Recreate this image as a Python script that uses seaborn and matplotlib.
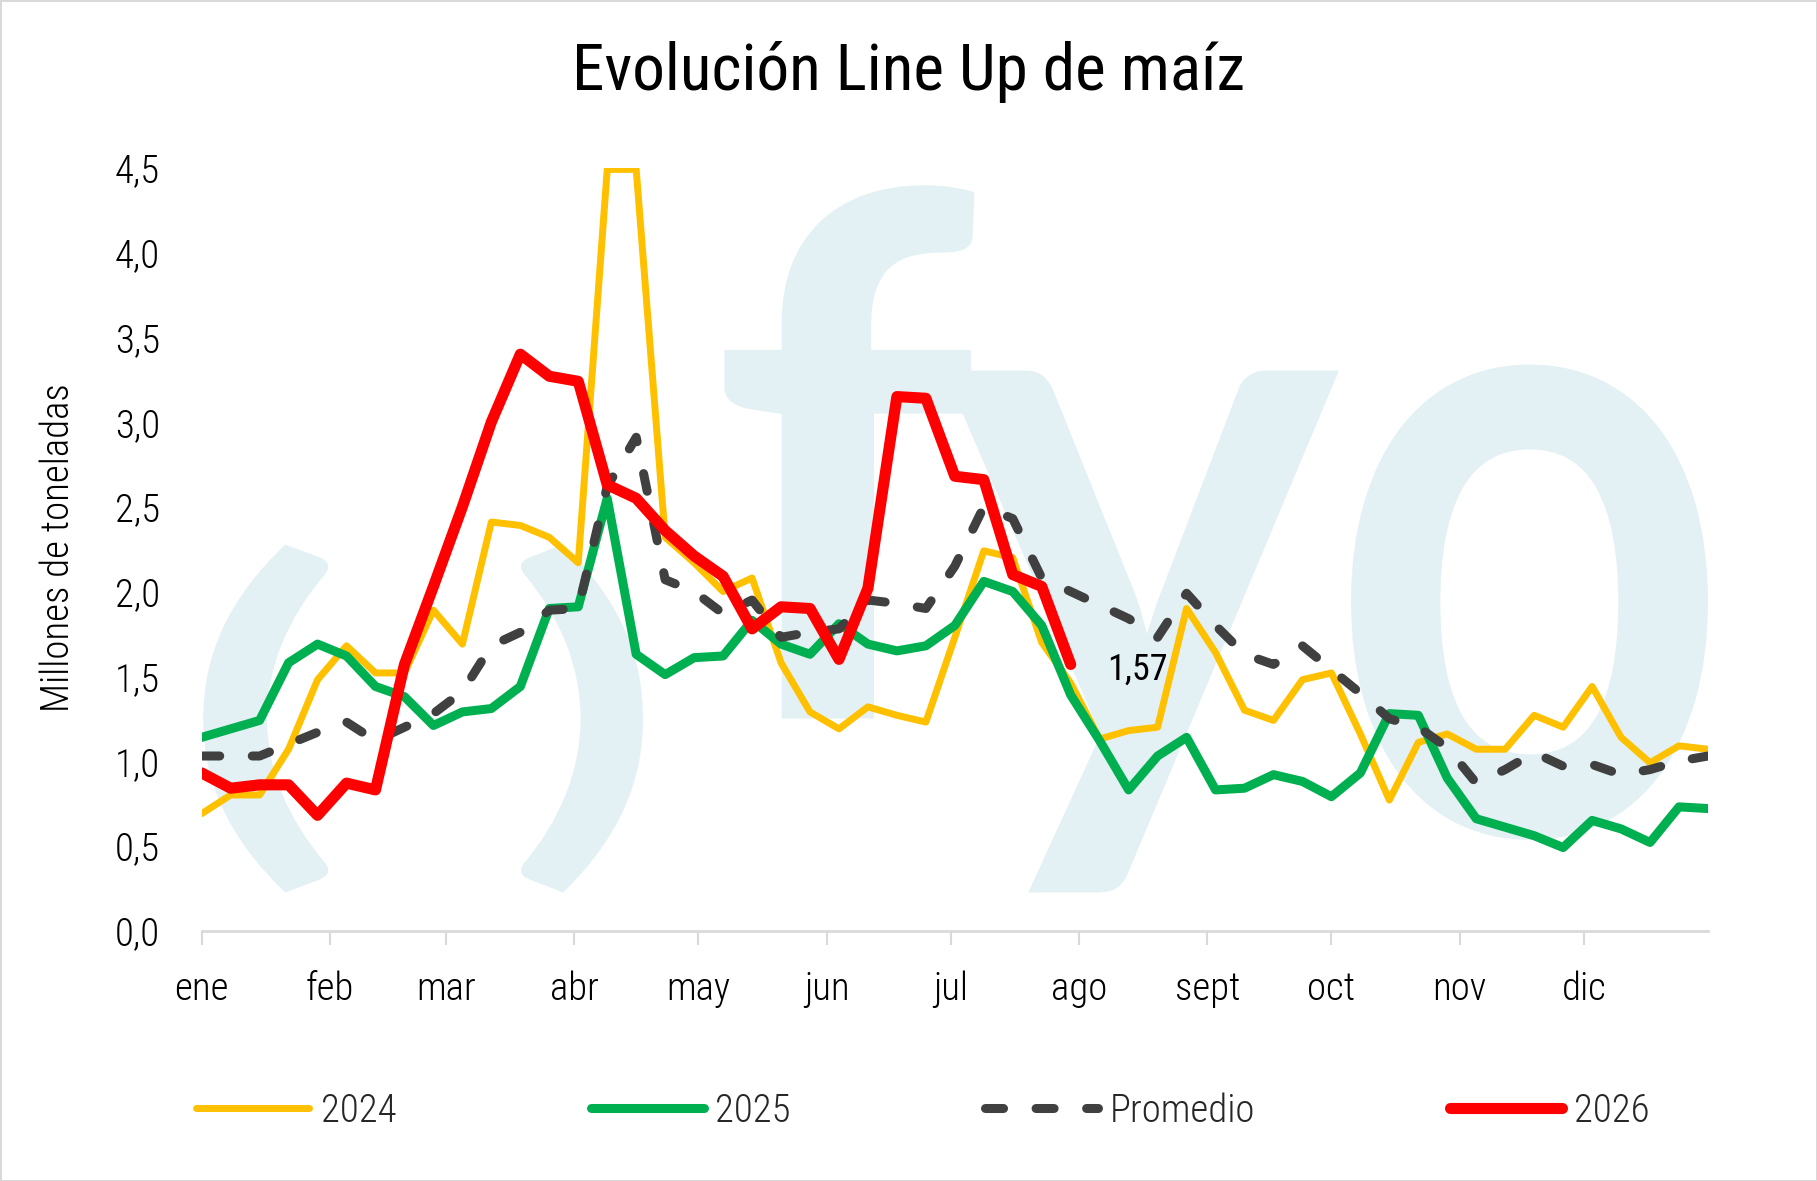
import numpy as np
import pandas as pd
import seaborn as sns
import matplotlib
matplotlib.use("Agg")
import matplotlib.pyplot as plt
from matplotlib import font_manager
from matplotlib.textpath import TextPath
from matplotlib.patches import PathPatch
from matplotlib.transforms import Affine2D

# weekly line up, millones de toneladas (week 0 = 1 ene)
y2024 = [0.69, 0.80, 0.80, 1.07, 1.48, 1.68, 1.52, 1.52, 1.89, 1.69,
         2.41, 2.39, 2.32, 2.17, 4.49, 4.49, 2.32, 2.17, 2.00, 2.08,
         1.58, 1.29, 1.19, 1.32, 1.27, 1.23, 1.73, 2.24, 2.20, 1.70,
         1.46, 1.13, 1.18, 1.20, 1.90, 1.64, 1.30, 1.24, 1.48, 1.52,
         1.16, 0.77, 1.11, 1.16, 1.07, 1.07, 1.27, 1.20, 1.44, 1.14,
         0.99, 1.09, 1.07]
y2025 = [1.14, 1.19, 1.24, 1.58, 1.69, 1.62, 1.44, 1.38, 1.21, 1.29,
         1.31, 1.44, 1.90, 1.91, 2.55, 1.63, 1.51, 1.61, 1.62, 1.83,
         1.69, 1.63, 1.81, 1.69, 1.65, 1.68, 1.80, 2.06, 2.00, 1.80,
         1.39, 1.12, 0.83, 1.03, 1.14, 0.83, 0.84, 0.92, 0.88, 0.79,
         0.93, 1.28, 1.27, 0.90, 0.66, 0.61, 0.56, 0.49, 0.65, 0.60,
         0.52, 0.73, 0.72]
promedio = [1.03, 1.03, 1.03, 1.10, 1.17, 1.23, 1.12, 1.20, 1.28, 1.41,
            1.68, 1.76, 1.89, 1.90, 2.62, 2.91, 2.07, 2.00, 1.87, 1.95,
            1.73, 1.76, 1.78, 1.95, 1.93, 1.90, 2.15, 2.50, 2.43, 2.08,
            2.00, 1.92, 1.84, 1.73, 1.99, 1.80, 1.63, 1.57, 1.68, 1.54,
            1.40, 1.25, 1.20, 1.08, 0.87, 0.95, 1.05, 0.97, 0.98, 0.92,
            0.95, 1.00, 1.03]
y2026 = [0.93, 0.84, 0.86, 0.86, 0.68, 0.87, 0.83, 1.57, 2.03, 2.50,
         3.00, 3.40, 3.27, 3.24, 2.63, 2.55, 2.36, 2.21, 2.09, 1.78,
         1.91, 1.90, 1.60, 2.02, 3.15, 3.14, 2.68, 2.66, 2.10, 2.03,
         1.57]

meses = ["ene", "feb", "mar", "abr", "may", "jun", "jul", "ago",
         "sept", "oct", "nov", "dic"]
dia_mes = [0, 31, 59, 90, 120, 151, 181, 212, 243, 273, 304, 334]

semanas = np.arange(len(y2024))

# pick a narrow font if there is one
names = {f.name for f in font_manager.fontManager.ttflist}
font = "Roboto"
for cand in ["Liberation Sans Narrow", "Roboto Condensed", "Open Sans Condensed",
             "Roboto"]:
    if cand in names:
        font = cand
        break

sns.set_theme(style="white")
plt.rcParams["font.family"] = [font, "DejaVu Sans"]
plt.rcParams["font.weight"] = "light"

fig = plt.figure(figsize=(18.17, 11.81), dpi=100)
fig.patch.set_edgecolor("#D9D9D9")
fig.patch.set_linewidth(2)
ax = fig.add_axes([0.111, 0.212, 0.829, 0.646])

# watermark logo (fyo) in light blue behind the data
logo = "#E3F1F5"
glyphs = [("(", (0.001, 0.050, 0.084, 0.506)),
          (")", (0.212, 0.050, 0.293, 0.506)),
          ("f", (0.347, 0.278, 0.513, 0.977)),
          ("y", (0.493, 0.050, 0.755, 0.734)),
          ("o", (0.763, 0.119, 1.000, 0.742))]
fp = font_manager.FontProperties(family="Lato", weight="bold")
for ch, (x0, y0, x1, y1) in glyphs:
    tp = TextPath((0, 0), ch, size=1, prop=fp)
    ext = tp.get_extents()
    tr = (Affine2D().translate(-ext.x0, -ext.y0)
          .scale((x1 - x0) / ext.width, (y1 - y0) / ext.height)
          .translate(x0, y0))
    patch = PathPatch(tr.transform_path(tp), facecolor=logo, edgecolor="none",
                      transform=ax.transAxes, zorder=0, clip_on=False)
    ax.add_patch(patch)

df24 = pd.DataFrame({"semana": semanas, "valor": y2024})
df25 = pd.DataFrame({"semana": semanas, "valor": y2025})
dfp = pd.DataFrame({"semana": semanas, "valor": promedio})
df26 = pd.DataFrame({"semana": semanas[:len(y2026)], "valor": y2026})

kw = dict(solid_capstyle="round", solid_joinstyle="round")
sns.lineplot(data=df24, x="semana", y="valor", color="#FFC000", linewidth=5,
             label="2024", ax=ax, zorder=3, **kw)
sns.lineplot(data=df25, x="semana", y="valor", color="#00B050", linewidth=6.5,
             label="2025", ax=ax, zorder=4, **kw)
sns.lineplot(data=dfp, x="semana", y="valor", color="#404040", linewidth=6.5,
             label="Promedio", ax=ax, zorder=5, linestyle=(0, (2.0, 3.6)),
             dash_capstyle="round", dash_joinstyle="round")
sns.lineplot(data=df26, x="semana", y="valor", color="#FF0000", linewidth=8,
             label="2026", ax=ax, zorder=6, **kw)

# label on the last 2026 value
ax.annotate(f"{y2026[-1]:.2f}".replace(".", ","),
            xy=(len(y2026) - 1, y2026[-1]), xytext=(48, -4),
            textcoords="offset points", ha="center", va="center",
            fontsize=26, color="black", fontweight="normal", zorder=7)

ax.set_xlim(0, len(y2024) - 1)
ax.set_ylim(0, 4.5)
ax.set_yticks(np.arange(0, 4.51, 0.5))
ax.set_yticklabels([f"{v:.1f}".replace(".", ",") for v in np.arange(0, 4.51, 0.5)])
ax.set_xticks([d / 7 for d in dia_mes])
ax.set_xticklabels(meses)
ax.tick_params(axis="x", direction="out", length=10, width=1.5, colors="#D9D9D9",
               labelcolor="black", labelsize=28, pad=19, bottom=True)
ax.tick_params(axis="y", length=0, labelsize=28, pad=30, labelcolor="black")
ax.set_xlabel("")
ax.set_ylabel("")
for s in ["top", "right", "left"]:
    ax.spines[s].set_visible(False)
ax.spines["bottom"].set_color("#D9D9D9")
ax.spines["bottom"].set_linewidth(2)
ax.spines["bottom"].set_zorder(1)
ax.grid(False)
ax.set_facecolor("none")

fig.text(0.5, 0.939, "Evolución Line Up de maíz", ha="center", va="center",
         fontsize=47, color="black", fontweight="normal")
fig.text(0.032, 0.536, "Millones de toneladas", rotation=90, ha="center",
         va="center", fontsize=28, color="black")

ax.get_legend().remove()
h, l = ax.get_legend_handles_labels()
fig.legend(h, l, loc="center", bbox_to_anchor=(0.508, 0.059), ncol=4,
           frameon=False, fontsize=28, handlelength=2.9, columnspacing=5.0,
           handletextpad=0.3)

fig.savefig("out.png", dpi=100)
